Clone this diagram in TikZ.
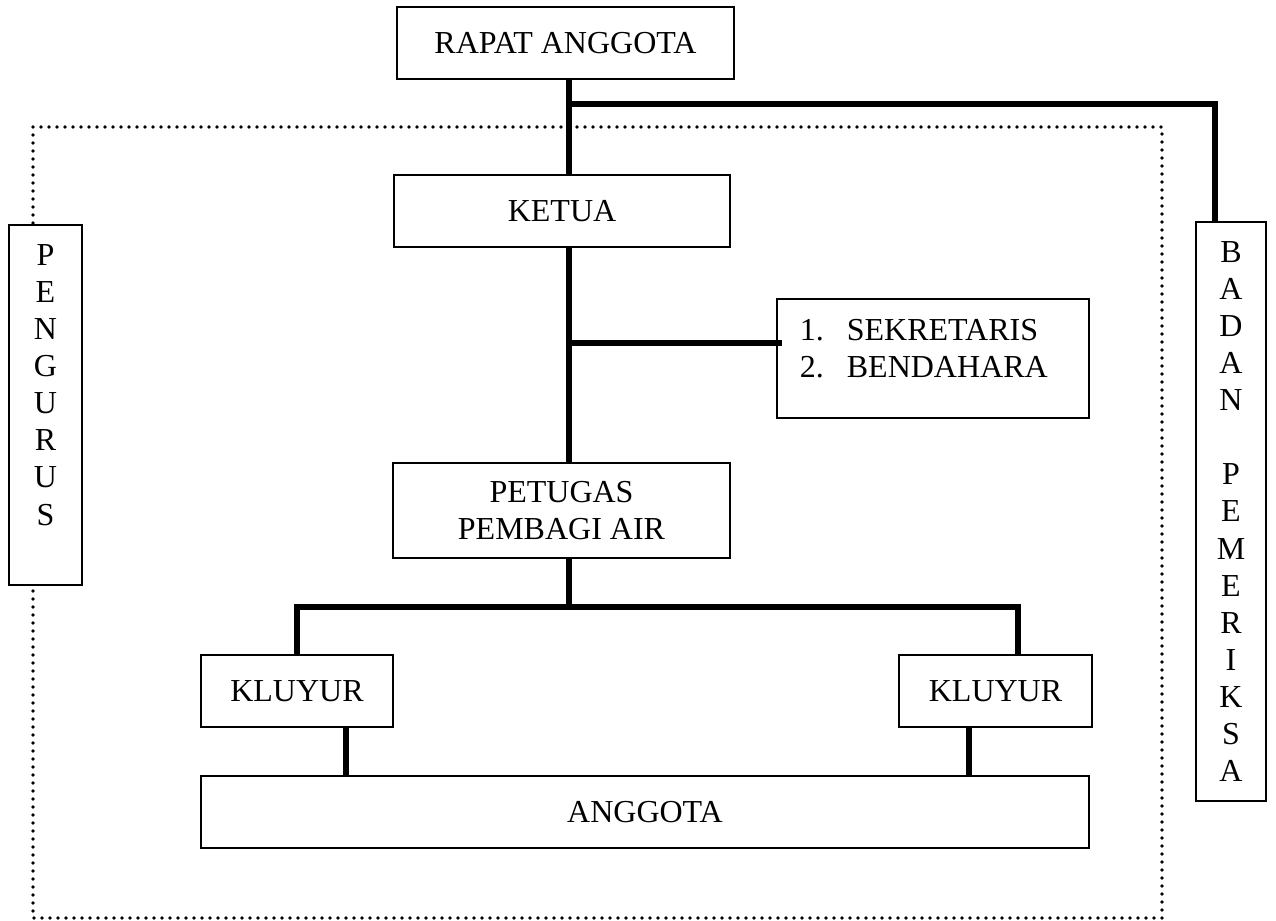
\documentclass[tikz,border=0pt]{standalone}
\usepackage{fontspec}
\setmainfont{Liberation Serif}
\usepackage{tikz}
\newcommand{\linkwidth}{2pt}
\newcommand{\framewidth}{.8pt}
\tikzset{
  box/.style={draw, line width=\framewidth, fill=white, inner sep=0pt,
    font=\fontsize{12pt}{13.9pt}\selectfont},
  link/.style={line width=\linkwidth},
  dotline/.style={line width=1.45pt, dash pattern=on 0pt off 3pt, line cap=round}
}

\begin{document}
\begin{tikzpicture}[x=.375pt,y=-.375pt]
        \useasboundingbox (0,0) rectangle (1276,920);
        % frame of the pengurus
        \draw[dotline] (33,127) rectangle (1162,918);

        \node (rapat) at (565.5,43)  [box, minimum width=126.4pt, minimum height=27pt] {RAPAT ANGGOTA};
        \node (ketua) at (562,211)  [box, minimum width=126pt, minimum height=27pt] {KETUA};
        \node (sekben) at (933,358.5)  [box] {\parbox[c][44.6pt][t]{117pt}{\noindent\rule{0pt}{15.6pt}\hspace*{8.6pt}\makebox[17.6pt][l]{1.}SEKRETARIS\\
            \hspace*{8.6pt}\makebox[17.6pt][l]{2.}BENDAHARA}};
        \node (petugas) at (561.5,510.5)  [box, align=center, minimum width=126.4pt, minimum height=35.6pt] {PETUGAS\\PEMBAGI AIR};
        \node (kluyur1) at (297,691)  [box, minimum width=72pt, minimum height=27pt] {KLUYUR};
        \node (kluyur2) at (995.5,691)  [box, minimum width=72.4pt, minimum height=27pt] {KLUYUR};
        \node (anggota) at (645,812)  [box, minimum width=333pt, minimum height=27pt] {ANGGOTA};
        \node (pengurus) at (45.5,405)  [box] {\parbox[c][135pt][t]{27.4pt}{\centering\rule{0pt}{15.2pt}P\\E\\N\\G\\U\\R\\U\\S}};
        \node (badan) at (1231,511.5)  [box] {\parbox[c][217pt][c]{26.25pt}{\centering B\\A\\D\\A\\N\\\mbox{}\\P\\E\\M\\E\\R\\I\\K\\S\\A}};

        \coordinate (spine) at (569,0);
        \coordinate (split) at (569,104);
        \coordinate (bus) at (569,607);

        \draw[link] (rapat.south -| spine) to (ketua.north -| spine);
        \draw[link] (split) -| ([xshift=-6pt]badan.north);
        \draw[link] (ketua.south -| spine) to (petugas.north -| spine);
        \draw[link] ([xshift=2.2pt,yshift=5.8pt]sekben.west) to ([yshift=5.8pt]sekben.west -| spine);
        \draw[link] (petugas.south -| spine) to (bus);
        \draw[link] (kluyur1.north) |- (bus) -| ([xshift=8.4pt]kluyur2.north);
        \draw[link] ([xshift=18.4pt]kluyur1.south) to ([xshift=18.4pt]kluyur1.south |- anggota.north);
        \draw[link] ([xshift=-9.9pt]kluyur2.south) to ([xshift=-9.9pt]kluyur2.south |- anggota.north);
\end{tikzpicture}
\end{document}
